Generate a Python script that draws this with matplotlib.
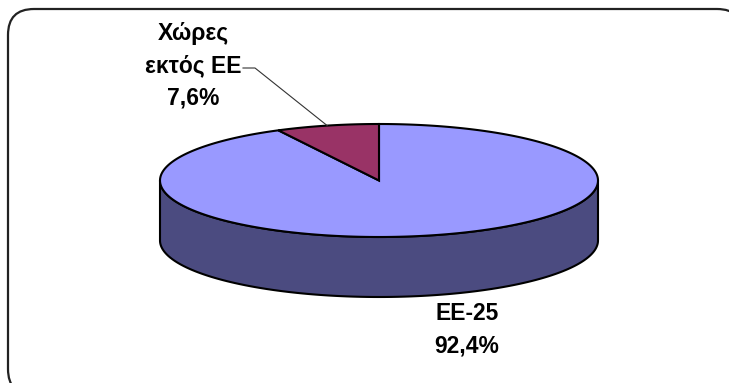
import numpy as np
import matplotlib.pyplot as plt
from matplotlib.patches import Polygon, FancyBboxPatch

# shares of the total (%)
labels = ['ΕΕ-25', 'Χώρες\nεκτός ΕΕ']
shares = [92.4, 7.6]
top_colors = ['#9999ff', '#993366']
side_colors = ['#4b4b80', '#4c1933']

# geometry of the tilted pie, in pixels
cx, cy = 379, 180.5
rx, ry = 219, 56.5
depth = 60

fig = plt.figure(figsize=(7.29, 3.83), dpi=100)
ax = fig.add_axes([0, 0, 1, 1])
ax.set_xlim(0, 729)
ax.set_ylim(383, 0)
ax.axis('off')

# rounded frame
frame = FancyBboxPatch((8, 9), 735, 386, boxstyle='round,pad=0,rounding_size=26',
                       fc='white', ec='#222222', lw=1.6)
ax.add_patch(frame)


def ell(t, dy=0):
    t = np.radians(t)
    return np.column_stack([cx + rx * np.cos(t), cy - ry * np.sin(t) + dy])


# slices go clockwise from 12 o'clock
spans = np.array(shares) / sum(shares) * 360
starts = 90 - np.concatenate([[0], np.cumsum(spans)[:-1]])
ends = starts - spans

# front wall: only the lower half of the ellipse is visible
for s, e, col in zip(starts, ends, side_colors):
    for k in (-360, 0):
        hi = min(s, 0 + k)
        lo = max(e, -180 + k)
        if hi <= lo:
            continue
        t = np.linspace(hi, lo, 200)
        pts = np.vstack([ell(t), ell(t[::-1], depth)])
        ax.add_patch(Polygon(pts, closed=True, fc=col, ec='black', lw=1.5, zorder=2))

# top faces
for s, e, col in zip(starts, ends, top_colors):
    t = np.linspace(s, e, 300)
    pts = np.vstack([[cx, cy], ell(t)])
    ax.add_patch(Polygon(pts, closed=True, fc=col, ec='black', lw=1.5,
                         joinstyle='miter', zorder=3))

pct = [f'{v:.1f}'.replace('.', ',') + '%' for v in shares]
font = dict(family='Liberation Sans', weight='bold', fontsize=16.5,
            ha='center', va='center', linespacing=1.52)

# big slice label
ax.text(467, 330, labels[0] + '\n' + pct[0], **font)

# small slice label with leader line
mid = (starts[1] + ends[1]) / 2
p = ell(np.array([mid]))[0]
ax.plot([p[0], 255, 243], [p[1], 68, 68], color='#333333', lw=0.8, zorder=4)
ax.text(193, 66, labels[1] + '\n' + pct[1], **font)

fig.savefig('out.png', dpi=100)
